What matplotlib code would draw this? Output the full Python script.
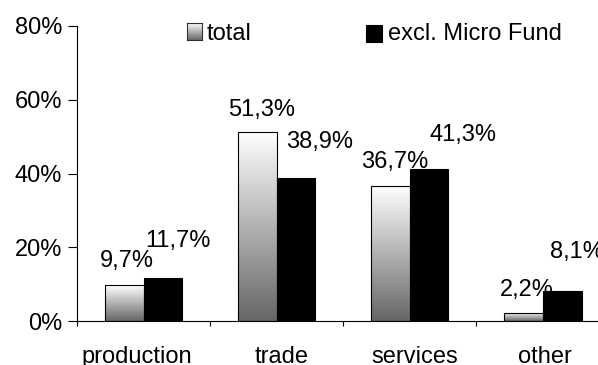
import numpy as np
import matplotlib
matplotlib.use("Agg")
import matplotlib.pyplot as plt
from matplotlib.colors import LinearSegmentedColormap
from matplotlib.patches import Rectangle
from matplotlib.transforms import ScaledTranslation

categories = ["production", "trade", "services", "other"]
total = [9.7, 51.3, 36.7, 2.2]
excl_micro = [11.7, 38.9, 41.3, 8.1]
y_ticks = [0, 20, 40, 60, 80]
series_names = ["total", "excl. Micro Fund"]

# value-label offsets in pixels (dx, dy) from the top centre of each bar
total_label_offsets = [(2.5, 18.6), (4.5, 16.1), (4.0, 17.6), (3.5, 16.6)]
excl_label_offsets = [(15.0, 30.6), (23.5, 29.6), (33.5, 27.6), (14.5, 33.6)]
# horizontal nudges (pixels) of the category names
category_label_nudges = [-7.0, 4.5, 5.0, 2.0]

plt.rcParams['font.family'] = ['Liberation Sans', 'DejaVu Sans']
FS = 17
DPI = 100
W, H = 598, 365
fig = plt.figure(figsize=(W / DPI, H / DPI), dpi=DPI)
ax = fig.add_axes([77 / W, 44 / H, 532.5 / W, 295 / H])

gray_cmap = LinearSegmentedColormap.from_list("fade", ["#666666", "#ffffff"])
grad = np.linspace(0, 1, 256).reshape(-1, 1)

x = np.arange(len(categories))
bw = 0.29

bars_total = ax.bar(x - bw / 2, total, bw, facecolor="none",
                    edgecolor="black", linewidth=0.8, zorder=3)
bars_excl = ax.bar(x + bw / 2, excl_micro, bw, color="black",
                   edgecolor="black", linewidth=0.8, zorder=3)

# gradient fill inside each "total" bar
for p in bars_total:
    x0, y0 = p.get_x(), p.get_y()
    im = ax.imshow(grad, extent=(x0, x0 + p.get_width(), y0, y0 + p.get_height()),
                   origin="lower", aspect="auto", cmap=gray_cmap, zorder=2,
                   interpolation="bilinear")
    im.set_clip_path(p)

def fmt(v):
    return f"{v:.1f}".replace(".", ",") + "%"

k = 72 / DPI
for p, v, (dx, dy) in zip(bars_total, total, total_label_offsets):
    ax.annotate(fmt(v), (p.get_x() + p.get_width() / 2, v),
                xytext=(dx * k, dy * k), textcoords="offset points",
                ha="center", va="baseline", fontsize=FS, zorder=5)
for p, v, (dx, dy) in zip(bars_excl, excl_micro, excl_label_offsets):
    ax.annotate(fmt(v), (p.get_x() + p.get_width() / 2, v),
                xytext=(dx * k, dy * k), textcoords="offset points",
                ha="center", va="baseline", fontsize=FS, zorder=5)

ax.set_xlim(-0.5, len(categories) - 0.5)
ax.set_ylim(0, 80)

ax.set_yticks(y_ticks)
ax.set_yticklabels([f"{t}%" for t in y_ticks], fontsize=FS)
ax.tick_params(axis="y", direction="out", length=6.5, width=0.8, pad=4.3)

ax.set_xticks(x)
ax.set_xticklabels(categories, fontsize=FS)
ax.set_xticks(np.arange(len(categories) + 1) - 0.5, minor=True)
ax.tick_params(axis="x", which="major", length=0, pad=18)
ax.tick_params(axis="x", which="minor", direction="out", length=3.6, width=0.8)
for lbl, nudge in zip(ax.get_xticklabels(), category_label_nudges):
    lbl.set_transform(lbl.get_transform() +
                      ScaledTranslation(nudge / DPI, 0, fig.dpi_scale_trans))

for side in ("top", "right"):
    ax.spines[side].set_visible(False)
for side in ("left", "bottom"):
    ax.spines[side].set_linewidth(0.8)
    ax.spines[side].set_color("black")

# legend: gradient swatch, black swatch, and their names
lax = fig.add_axes([186.7 / W, (H - 40) / H, 15 / W, 16.7 / H])
lax.imshow(grad, origin="lower", aspect="auto", cmap=gray_cmap,
           extent=(0, 1, 0, 1), interpolation="bilinear")
lax.set_xticks([])
lax.set_yticks([])
for s in lax.spines.values():
    s.set_linewidth(0.8)
    s.set_color("#333333")
fig.add_artist(Rectangle((366 / W, (H - 41.5) / H), 16 / W, 16.5 / H,
                         transform=fig.transFigure, facecolor="black",
                         edgecolor="black", linewidth=0.8))
fig.text(207 / W, (H - 40) / H, series_names[0], fontsize=FS, va="baseline")
fig.text(388 / W, (H - 40) / H, series_names[1], fontsize=FS, va="baseline")

fig.savefig("out.png", dpi=DPI)
